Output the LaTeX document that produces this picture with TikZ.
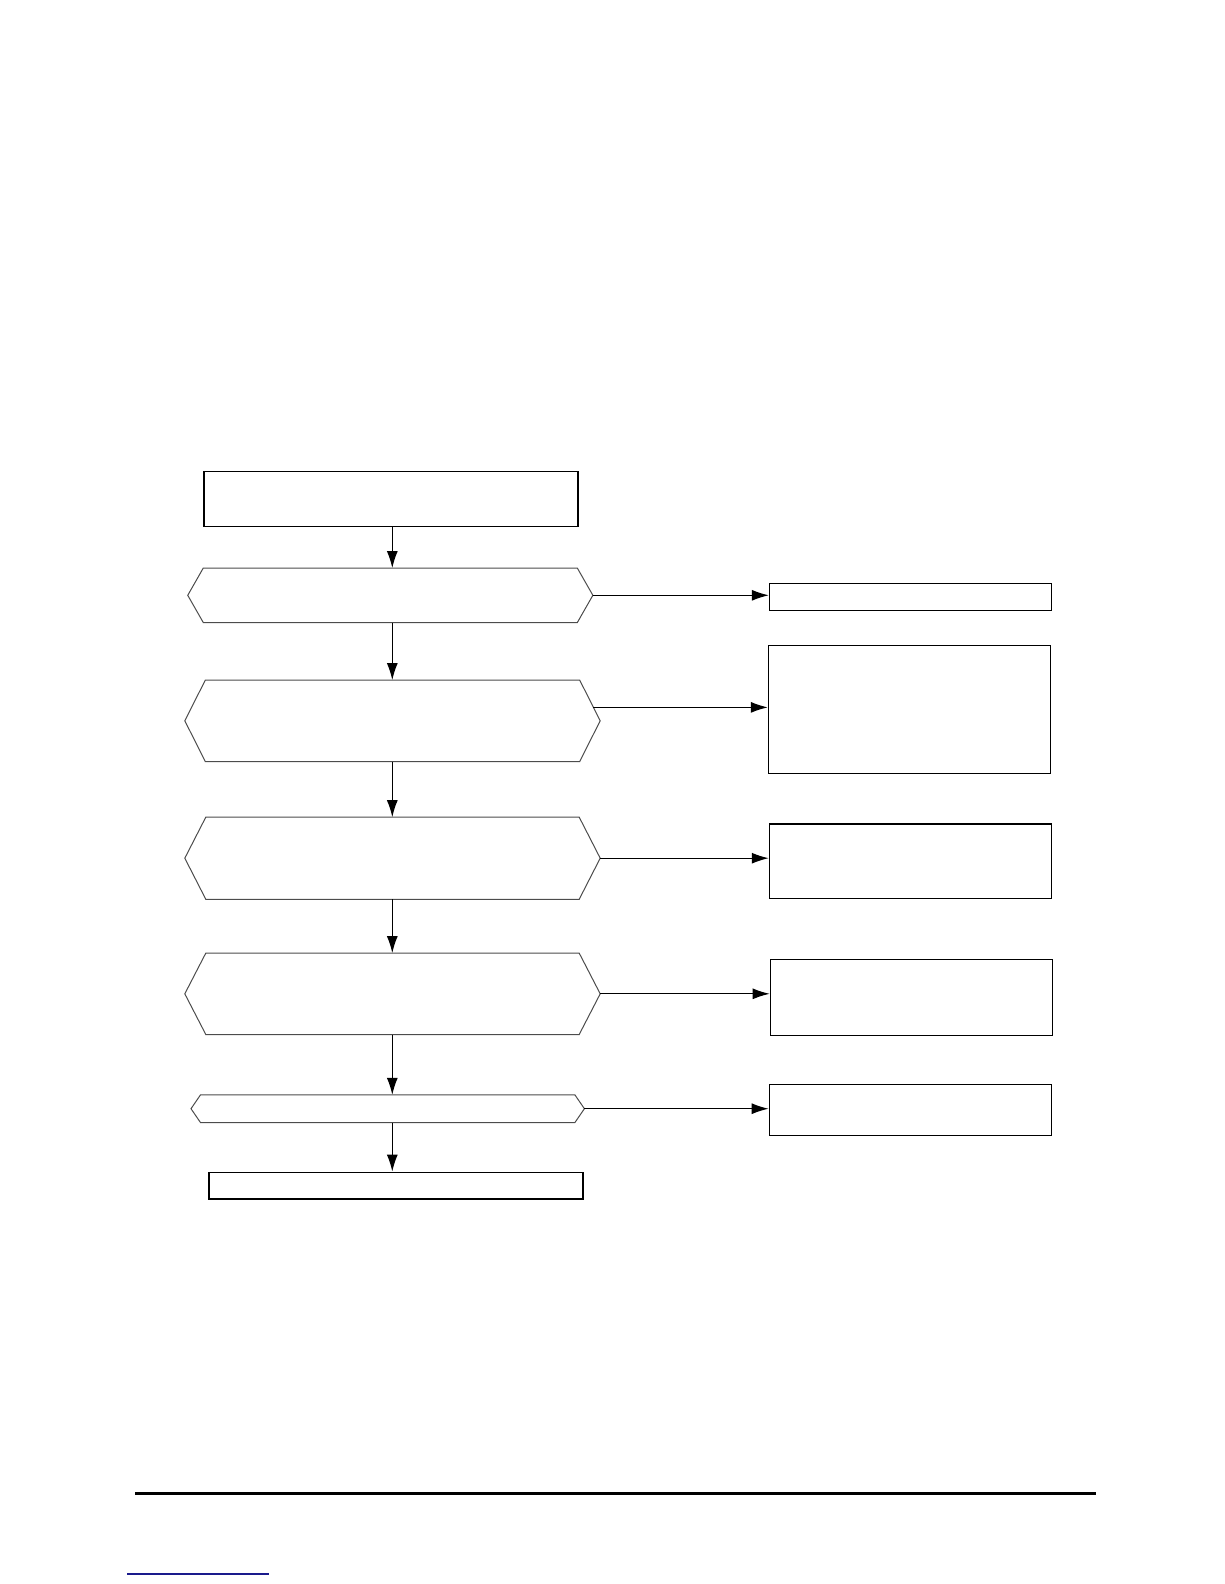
\documentclass[tikz,border=0pt]{standalone}
\usepackage{tikz}
\usetikzlibrary{arrows.meta, calc}
\definecolor{linkblue}{HTML}{1A1A8C}
\tikzset{
  >=latex,
  % Blocchi del diagramma
  block/.style={draw=black,line width=1.3pt,rectangle,inner sep=0pt,minimum width=282pt},
  block main/.style={block,minimum width=374pt},
  decision/.style 2 args={rectangle,inner sep=0pt,minimum width=#1,minimum height=#2},
  decision line/.style={draw=black!70,line width=1pt,line join=miter},
  % Connessioni
  connect arrow/.style={-{Latex[length=17pt,width=11pt]},line width=1.2pt,black}
}
\begin{document}
\begin{tikzpicture}[x=1pt,y=-1pt]
  \useasboundingbox (0,0) rectangle (1224,1584);
  \coordinate (col) at (392.3,0);
  % colonna centrale
  \node[block main,minimum height=55pt] (start) at (391,498.8) {};
  \node[decision={404.7pt}{54pt}] (h1) at (390.3,595.3) {};
  \node[decision={415pt}{81pt}] (h2) at (392.5,720.8) {};
  \node[decision={415pt}{81.7pt}] (h3) at (392.5,858.2) {};
  \node[decision={415pt}{81pt}] (h4) at (392.5,993.8) {};
  \node[decision={393pt}{27.3pt}] (h5) at (387.7,1108.7) {};
  \node[block main,minimum height=26.7pt] (stop) at (396,1185.6) {};
  % contorni esagonali
  \foreach \h/\d in {h1/15.5,h2/20.5,h3/21,h4/21,h5/9.5}
    \draw[decision line] (\h.west) -- ($(\h.north west)+(\d,0)$) -- ($(\h.north east)-(\d,0)$)
      -- (\h.east) -- ($(\h.south east)-(\d,0)$) -- ($(\h.south west)+(\d,0)$) -- cycle;
  % colonna destra
  \node[block,minimum height=27pt] (b1) at (910.5,596.8) {};
  \node[block,minimum height=128pt] (b2) at (909.5,709.3) {};
  \node[block,minimum height=74.8pt] (b3) at (910.4,861.4) {};
  \node[block,minimum height=76pt] (b4) at (911.3,997.3) {};
  \node[block,minimum height=51pt] (b5) at (910.3,1109.8) {};
  \coordinate (h2 out) at ($(h2.east)!0.33!($(h2.north east)+(-20.5,0)$)$);
  % frecce verticali
  \foreach \a/\b in {start/h1,h1/h2,h2/h3,h3/h4,h4/h5,h5/stop}
    \draw[connect arrow] (\a.south -| col) -- (\b.north -| col);
  % frecce orizzontali
  \draw[connect arrow] (h1.east) -- (h1.east -| b1.west);
  \draw[connect arrow] (h2 out) -- (h2 out -| b2.west);
  \foreach \i in {3,4,5}
    \draw[connect arrow] (h\i.east) -- (h\i.east -| b\i.west);
  % piè di pagina
  \draw[line width=2.2pt] (135,1493.5) -- (1096,1493.5);
  \draw[linkblue,line width=1.2pt] (127,1574) -- (269,1574);
\end{tikzpicture}
\end{document}
